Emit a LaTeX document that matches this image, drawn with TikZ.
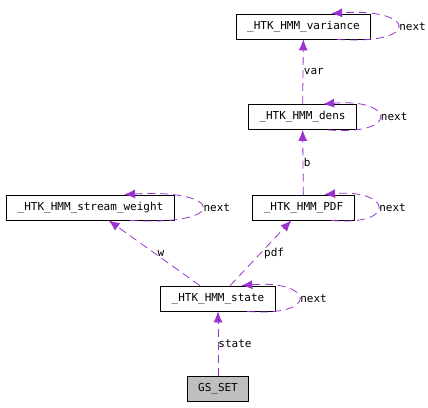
\documentclass[tikz,border=0pt]{standalone}
\usepackage{fontspec}
\setmonofont{DejaVu Sans Mono}
\usetikzlibrary{arrows.meta}
\definecolor{edgecol}{HTML}{9A32CD}
\definecolor{boxgray}{HTML}{BFBFBF}
\begin{document}
\begin{tikzpicture}[x=1pt,y=1pt,
    every node/.style={font=\ttfamily\fontsize{11}{13}\selectfont},
    box/.style={draw,line width=0.8pt,inner xsep=11pt,inner ysep=0pt,minimum height=25pt},
    lbl/.style={anchor=west,inner sep=1pt}]
  \useasboundingbox (0,0) rectangle (428,407);
  \node[box] (var) at (303.5,380.5) {\_HTK\_HMM\_variance};
  \node[box] (dens) at (302.5,290) {\_HTK\_HMM\_dens};
  \node[box] (sw) at (90.5,199.5) {\_HTK\_HMM\_stream\_weight};
  \node[box] (pdf) at (303.5,199.5) {\_HTK\_HMM\_PDF};
  \node[box] (state) at (218,108.5) {\_HTK\_HMM\_state};
  \node[box,fill=boxgray] (gs) at (218,18.5) {GS\_SET};
  \begin{scope}[edgecol,line width=0.8pt,dash pattern=on 8pt off 5pt,
      -{Latex[length=11pt,width=9pt]}]
    \draw (gs) to node[lbl,pos=0.5,black,inner sep=0pt] {state} (state);
    \draw (state) to node[lbl,pos=0.5,black,inner sep=3pt] {w} (sw);
    \draw (state) to node[lbl,pos=0.5,black,inner sep=3pt] {pdf} (pdf);
    \draw (pdf) to node[lbl,pos=0.5,black,inner sep=0.5pt] {b} (dens);
    \draw (dens) to node[lbl,pos=0.5,black,inner sep=0.5pt] {var} (var);
    % next loops
    \draw (var.-21.6) .. controls +(85,-6) and +(85,6) .. (var.25)
      node[lbl,pos=0.5,black] {next};
    \draw (dens.-27) .. controls +(72,-6) and +(72,6) .. (dens.32)
      node[lbl,pos=0.5,black] {next};
    \draw (sw.-18.9) .. controls +(100,-6) and +(100,6) .. (sw.21.6)
      node[lbl,pos=0.5,black] {next};
    \draw (pdf.-25.3) .. controls +(67,-6) and +(67,6) .. (pdf.32.7)
      node[lbl,pos=0.5,black] {next};
    \draw (state.-24.8) .. controls +(73,-6) and +(73,6) .. (state.29.6)
      node[lbl,pos=0.5,black] {next};
  \end{scope}
\end{tikzpicture}
\end{document}
